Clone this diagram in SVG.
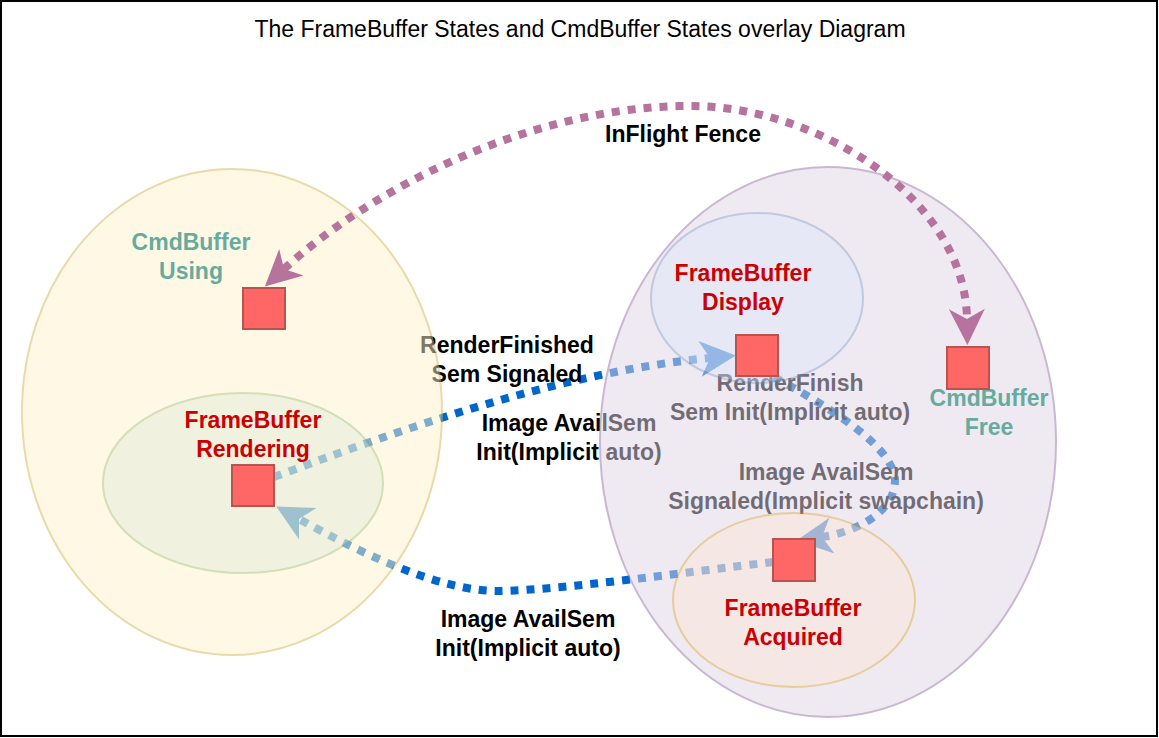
<svg xmlns="http://www.w3.org/2000/svg" width="1159" height="738" viewBox="0 0 1159 738">
<defs>
<style>
text { font-family: "Liberation Sans", Arial, sans-serif; font-size: 23px; text-anchor: middle; }
.b { font-weight: bold; }
.lbl { fill: #000000; }
.cmd { fill: #67AB9F; }
.fb { fill: #CC0000; }
.st { opacity: 0.5; stroke-width: 2; }
.in { opacity: 0.35; stroke-width: 2; }
.sq { fill: #FF6666; stroke: #B85450; stroke-width: 2; }
.blue { fill: none; stroke: #0066CC; stroke-width: 8; stroke-dasharray: 8 8; marker-end: url(#ab); }
.fence { fill: none; stroke: #B5739D; stroke-width: 8; stroke-dasharray: 8 8; marker-start: url(#af); marker-end: url(#af); }
</style>
<marker id="ab" markerUnits="userSpaceOnUse" viewBox="0 0 40 40" markerWidth="40" markerHeight="40" refX="12" refY="20" orient="auto-start-reverse"><path d="M38,20 L2,2 L12,20 L2,38 Z" fill="#0066CC" stroke="none"/></marker>
<marker id="af" markerUnits="userSpaceOnUse" viewBox="0 0 40 40" markerWidth="40" markerHeight="40" refX="12" refY="20" orient="auto-start-reverse"><path d="M38,20 L2,2 L12,20 L2,38 Z" fill="#B5739D" stroke="none"/></marker>
</defs>
<rect x="1" y="1" width="1156" height="735" fill="#FFFFFF" stroke="#000000" stroke-width="2"/>
<text id="title" x="580" y="37">The FrameBuffer States and CmdBuffer States overlay Diagram</text>

<g id="connectors">
  <path id="e-render-display" class="blue" d="M 274 477 C 400 430, 560 372, 710 358"/>
  <path id="e-display-acquired" class="blue" d="M 774 377 C 825 405, 893 445, 895 480 C 895 515, 850 533, 822 537"/>
  <path id="e-acquired-render" class="blue" d="M 773 562 C 680 573, 560 590, 500 591 C 440 592, 359 552, 299 519"/>
  <text class="b lbl" x="507" y="353">RenderFinished</text>
  <text class="b lbl" x="507" y="382">Sem Signaled</text>
  <text class="b lbl" x="569" y="431">Image AvailSem</text>
  <text class="b lbl" x="569" y="460">Init(Implicit auto)</text>
  <text class="b lbl" x="790" y="391">RenderFinish</text>
  <text class="b lbl" x="790" y="420">Sem Init(Implicit auto)</text>
  <text class="b lbl" x="826" y="480">Image AvailSem</text>
  <text class="b lbl" x="826" y="509">Signaled(Implicit swapchain)</text>
  <text class="b lbl" x="528" y="627">Image AvailSem</text>
  <text class="b lbl" x="528" y="656">Init(Implicit auto)</text>
</g>

<g id="cmd-using-state">
  <ellipse class="st" cx="232" cy="412" rx="210" ry="243" fill="#FFF2CC" stroke="#D6B656"/>
  <text class="b cmd" x="191" y="250">CmdBuffer</text>
  <text class="b cmd" x="191" y="279">Using</text>
</g>
<g id="fb-rendering-state">
  <ellipse class="in" cx="243" cy="483" rx="140" ry="90" fill="#D5E8D4" stroke="#82B366"/>
  <text class="b fb" x="253" y="428">FrameBuffer</text>
  <text class="b fb" x="253" y="457">Rendering</text>
</g>
<g id="cmd-free-state">
  <ellipse class="st" cx="828" cy="442" rx="228" ry="275" fill="#E1D5E7" stroke="#9673A6"/>
  <text class="b cmd" x="989" y="406">CmdBuffer</text>
  <text class="b cmd" x="989" y="435">Free</text>
</g>
<g id="fb-display-state">
  <ellipse class="in" cx="757" cy="298" rx="106" ry="85" fill="#DAE8FC" stroke="#6C8EBF"/>
  <text class="b fb" x="743" y="281">FrameBuffer</text>
  <text class="b fb" x="743" y="310">Display</text>
</g>
<g id="fb-acquired-state">
  <ellipse class="in" cx="794" cy="600" rx="121" ry="87" fill="#FFE6CC" stroke="#D79B00"/>
  <text class="b fb" x="793" y="616">FrameBuffer</text>
  <text class="b fb" x="793" y="645">Acquired</text>
</g>

<g id="sq-cmd-using"><rect class="sq" x="243" y="288" width="42" height="41"/></g>
<g id="sq-fb-rendering"><rect class="sq" x="232" y="465" width="42" height="41"/></g>
<g id="sq-fb-display"><rect class="sq" x="736" y="335" width="42" height="41"/></g>
<g id="sq-cmd-free"><rect class="sq" x="947" y="347" width="42" height="42"/></g>
<g id="sq-fb-acquired"><rect class="sq" x="773" y="539" width="42" height="42"/></g>

<g id="connectors-top">
  <path id="e-inflight-fence" class="fence" d="M 284 269 C 370 190, 530 106, 690 106 C 820 106, 965 200, 967 319"/>
  <text class="b lbl" x="683" y="142">InFlight Fence</text>
</g>
</svg>
